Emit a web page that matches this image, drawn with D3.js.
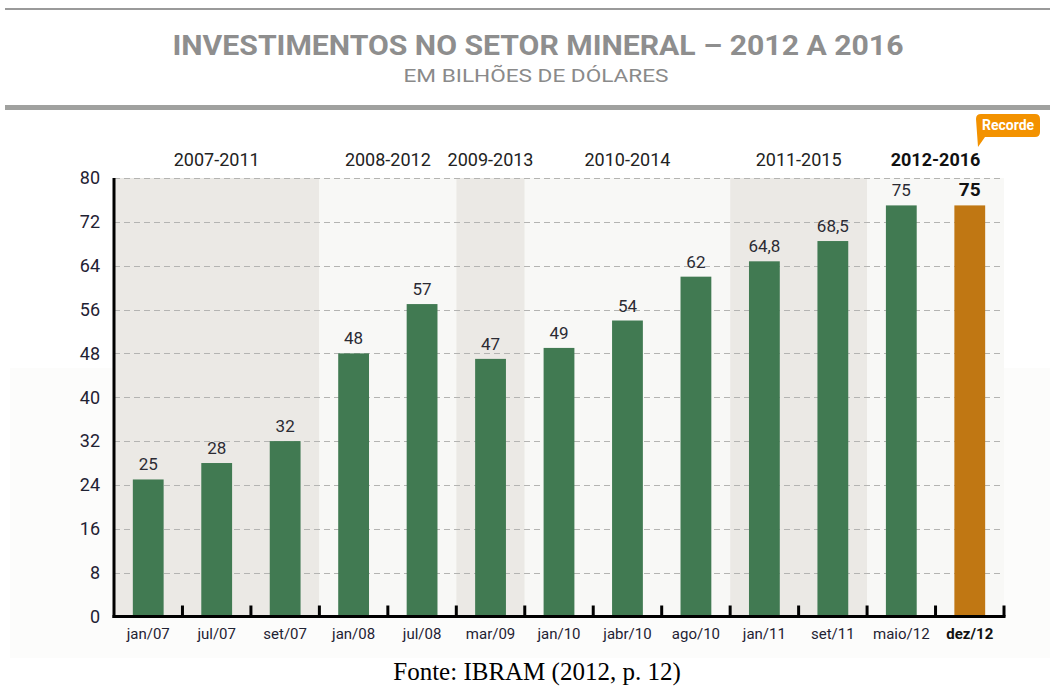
<!DOCTYPE html>
<html>
<head>
<meta charset="utf-8">
<script src="https://cdn.jsdelivr.net/npm/d3@7"></script>
<style>
  body { margin: 0; background: #fff; }
  svg { display: block; }
</style>
</head>
<body>
<script>
const categories = ["jan/07", "jul/07", "set/07", "jan/08", "jul/08", "mar/09", "jan/10",
                    "jabr/10", "ago/10", "jan/11", "set/11", "maio/12", "dez/12"];
const values = [25, 28, 32, 48, 57, 47, 49, 54, 62, 64.8, 68.5, 75, 75];
const groupLabels = ["2007-2011", "2008-2012", "2009-2013", "2010-2014", "2011-2015", "2012-2016"];
const groupStart = ["jan/07", "jan/08", "mar/09", "jan/10", "jan/11", "maio/12"];
const groupEnd = ["set/07", "jul/08", "mar/09", "ago/10", "set/11", "dez/12"];
const yTicks = [0, 8, 16, 24, 32, 40, 48, 56, 64, 72, 80];
const highlight = "dez/12";

const width = 1050, height = 687;
const margin = {top: 178, right: 46, bottom: 70, left: 114};
const sans = "Roboto, 'Liberation Sans', sans-serif";

const svg = d3.select("body").append("svg")
    .attr("width", width)
    .attr("height", height)
    .attr("font-family", sans);

const x = d3.scaleBand()
    .domain(categories)
    .range([margin.left, width - margin.right])
    .paddingInner(0.55)
    .paddingOuter(0.275);

const y = d3.scaleLinear()
    .domain([0, 80])
    .range([height - margin.bottom - 0.5, margin.top]);

const step = x.step();
const bandLeft = d => x(d) - x.paddingInner() * step / 2;

// faint page panel
svg.append("rect")
    .attr("x", 10).attr("y", 368)
    .attr("width", width - 10).attr("height", 290)
    .attr("fill", "#fcfcfb");

// header rules
svg.append("rect").attr("x", 5).attr("y", 8).attr("width", width - 5).attr("height", 2).attr("fill", "#9a9a9a");
svg.append("rect").attr("x", 5).attr("y", 105).attr("width", width - 5).attr("height", 5).attr("fill", "#a0a19f");

svg.append("text")
    .attr("x", 538).attr("y", 55)
    .attr("text-anchor", "middle")
    .attr("font-size", 27).attr("font-weight", "bold")
    .attr("fill", "#8e8e8e")
    .attr("textLength", 731).attr("lengthAdjust", "spacingAndGlyphs")
    .text("INVESTIMENTOS NO SETOR MINERAL – 2012 A 2016");

svg.append("text")
    .attr("x", 536).attr("y", 82)
    .attr("text-anchor", "middle")
    .attr("font-size", 19)
    .attr("fill", "#8a8a8a")
    .attr("textLength", 265).attr("lengthAdjust", "spacingAndGlyphs")
    .text("EM BILHÕES DE DÓLARES");

// period bands
const groups = groupLabels.map((label, i) => ({
  label,
  x0: bandLeft(groupStart[i]),
  x1: bandLeft(groupEnd[i]) + step,
  dark: i % 2 === 0
}));

svg.append("g")
  .selectAll("rect")
  .data(groups)
  .join("rect")
    .attr("x", d => d.x0)
    .attr("y", y(80))
    .attr("width", d => d.x1 - d.x0)
    .attr("height", y(0) - y(80))
    .attr("fill", d => d.dark ? "#ebe9e5" : "#f8f8f6");

svg.append("g")
  .selectAll("text")
  .data(groups)
  .join("text")
    .attr("x", d => (d.x0 + d.x1) / 2)
    .attr("y", 166)
    .attr("text-anchor", "middle")
    .attr("font-size", 18)
    .attr("font-weight", (d, i) => i === groups.length - 1 ? "bold" : null)
    .attr("fill", (d, i) => i === groups.length - 1 ? "#111" : "#222")
    .text(d => d.label);

// grid
svg.append("g")
    .attr("stroke", "#b4b4b2")
    .attr("stroke-width", 1.2)
    .attr("stroke-dasharray", "6,4")
  .selectAll("line")
  .data(yTicks.filter(d => d > 0))
  .join("line")
    .attr("x1", margin.left)
    .attr("x2", width - margin.right)
    .attr("y1", d => Math.round(y(d)) + 0.5)
    .attr("y2", d => Math.round(y(d)) + 0.5);

// bars
svg.append("g")
  .selectAll("rect")
  .data(categories)
  .join("rect")
    .attr("x", d => x(d))
    .attr("y", (d, i) => y(values[i]))
    .attr("width", x.bandwidth())
    .attr("height", (d, i) => y(0) - y(values[i]))
    .attr("fill", d => d === highlight ? "#c07713" : "#417a52");

// value labels
svg.append("g")
  .selectAll("text")
  .data(categories)
  .join("text")
    .attr("x", d => x(d) + x.bandwidth() / 2)
    .attr("y", (d, i) => y(values[i]) - 9)
    .attr("text-anchor", "middle")
    .attr("font-size", d => d === highlight ? 19 : 17)
    .attr("font-weight", d => d === highlight ? "bold" : null)
    .attr("fill", d => d === highlight ? "#111" : "#2b2b33")
    .text((d, i) => String(values[i]).replace(".", ","));

// y axis
const yAxis = d3.axisLeft(y).tickValues(yTicks).tickSize(0).tickPadding(14);
svg.append("g")
    .attr("transform", `translate(${margin.left},0)`)
    .call(yAxis)
    .call(g => g.select(".domain").remove())
    .call(g => g.selectAll("text")
        .attr("font-family", sans)
        .attr("font-size", 18)
        .attr("fill", "#1f2233"));

svg.append("line")
    .attr("x1", margin.left).attr("x2", margin.left)
    .attr("y1", y(80)).attr("y2", y(0) + 1.5)
    .attr("stroke", "#000").attr("stroke-width", 3);

// x axis
const xAxis = d3.axisBottom(x).tickSize(0).tickPadding(12);
svg.append("g")
    .attr("transform", `translate(0,${y(0)})`)
    .call(xAxis)
    .call(g => g.select(".domain").remove())
    .call(g => g.selectAll("text")
        .attr("font-family", sans)
        .attr("font-size", 15)
        .attr("font-weight", d => d === highlight ? "bold" : null)
        .attr("fill", d => d === highlight ? "#111" : "#1f2233"));

svg.append("line")
    .attr("x1", margin.left - 1.5).attr("x2", width - margin.right + 1.5)
    .attr("y1", y(0)).attr("y2", y(0))
    .attr("stroke", "#000").attr("stroke-width", 3);

svg.append("g")
    .attr("stroke", "#000").attr("stroke-width", 3)
  .selectAll("line")
  .data(categories)
  .join("line")
    .attr("x1", d => bandLeft(d) + step)
    .attr("x2", d => bandLeft(d) + step)
    .attr("y1", y(0))
    .attr("y2", y(0) - 11);

// "Recorde" badge
const bx = 976, by = 114, bw = 64, bh = 23, r = 5;
svg.append("path")
    .attr("d", `M${bx},${by + r} Q${bx},${by} ${bx + r},${by} L${bx + bw - r},${by} Q${bx + bw},${by} ${bx + bw},${by + r}
                L${bx + bw},${by + bh - r} Q${bx + bw},${by + bh} ${bx + bw - r},${by + bh}
                L${bx + 9},${by + bh} L${bx + 2},${by + bh + 10} Z`)
    .attr("fill", "#f39200");

svg.append("text")
    .attr("x", bx + bw / 2).attr("y", by + 16)
    .attr("text-anchor", "middle")
    .attr("font-size", 14).attr("font-weight", "bold")
    .attr("fill", "#fff")
    .text("Recorde");

// source
svg.append("text")
    .attr("x", 537).attr("y", 680)
    .attr("text-anchor", "middle")
    .attr("font-family", "'Liberation Serif', 'Times New Roman', serif")
    .attr("font-size", 25)
    .attr("fill", "#000")
    .text("Fonte: IBRAM (2012, p. 12)");
</script>
</body>
</html>
